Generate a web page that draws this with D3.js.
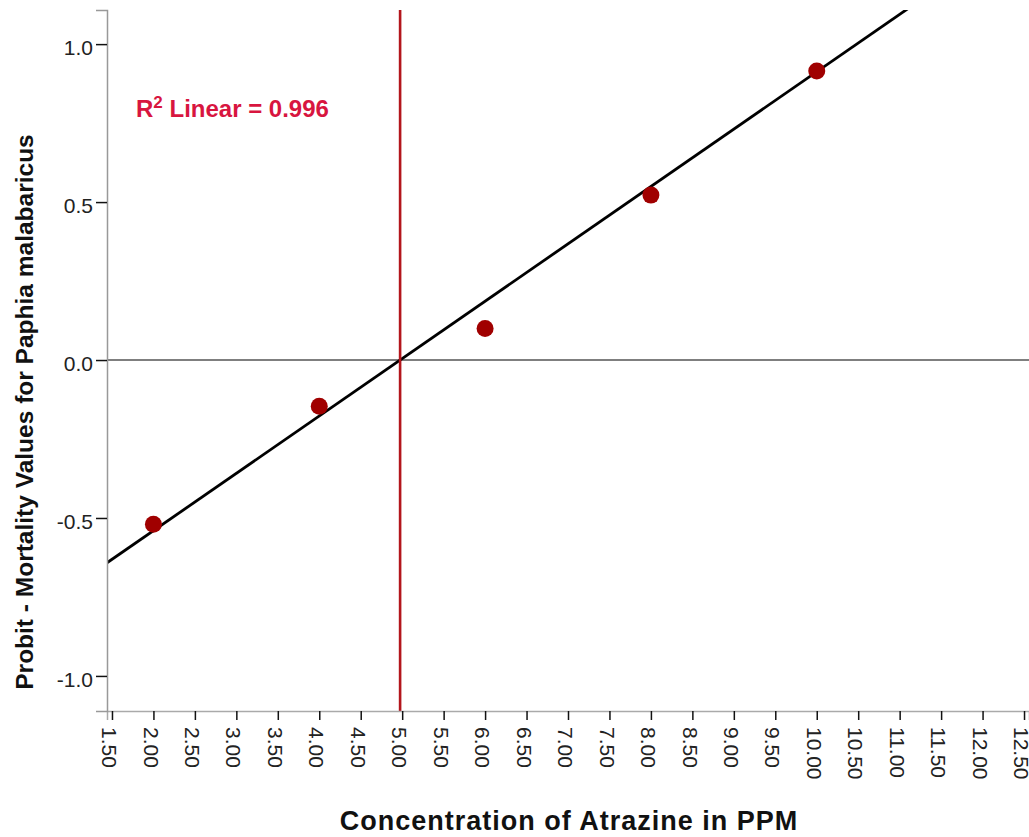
<!DOCTYPE html>
<html>
<head>
<meta charset="utf-8">
<script src="https://cdn.jsdelivr.net/npm/d3@7"></script>
<style>
  body { margin: 0; background: white; }
  text { font-family: "Liberation Sans", Arial, sans-serif; }
</style>
</head>
<body>
<div id="container"></div>
<script>
// concentration of atrazine (ppm) and probit mortality values
let concentration = [2, 4, 6, 8, 10];
let probit = [-0.52, -0.146, 0.10, 0.522, 0.915];

// fitted line as drawn in the chart (R2 linear = 0.996), and the x where it crosses 0
let fitSlope = 0.1816;
let fitCross = 4.975;
let r2Label = "0.996";

let xTicks = [1.5, 2, 2.5, 3, 3.5, 4, 4.5, 5, 5.5, 6, 6.5, 7, 7.5, 8, 8.5, 9, 9.5, 10, 10.5, 11, 11.5, 12, 12.5];
let yTicks = [-1.0, -0.5, 0.0, 0.5, 1.0];

let w = 1029;
let h = 837;
let plotLeft = 107;
let plotRight = 1029;
let plotTop = 10;
let plotBottom = 711;

let viz = d3.select("#container")
  .append("svg")
  .attr("width", w)
  .attr("height", h)
  .style("background-color", "white");

let xScale = d3.scaleLinear().domain([1.44, 12.56]).range([plotLeft, plotRight]);
let yScale = d3.scaleLinear().domain([-1.111, 1.108]).range([plotBottom, plotTop]);

function fit(x) {
  return fitSlope * (x - fitCross);
}

viz.append("clipPath").attr("id", "plotClip")
  .append("rect")
  .attr("x", plotLeft).attr("y", plotTop)
  .attr("width", plotRight - plotLeft).attr("height", plotBottom - plotTop);

let plot = viz.append("g").attr("clip-path", "url(#plotClip)");

// zero reference line
plot.append("line")
  .attr("x1", plotLeft).attr("x2", plotRight)
  .attr("y1", yScale(0)).attr("y2", yScale(0))
  .attr("stroke", "#555")
  .attr("stroke-width", 1.6);

// fit line
let x0 = xScale.domain()[0];
let x1 = xScale.domain()[1];
plot.append("line")
  .attr("x1", xScale(x0)).attr("y1", yScale(fit(x0)))
  .attr("x2", xScale(x1)).attr("y2", yScale(fit(x1)))
  .attr("stroke", "black")
  .attr("stroke-width", 2.8);

// vertical reference line where the fit crosses 0
plot.append("line")
  .attr("x1", xScale(fitCross)).attr("x2", xScale(fitCross))
  .attr("y1", plotTop).attr("y2", plotBottom)
  .attr("stroke", "#b3161c")
  .attr("stroke-width", 2.6);

// points
plot.selectAll(".pt")
  .data(concentration)
  .enter()
  .append("circle")
  .attr("class", "pt")
  .attr("cx", function (d) { return xScale(d); })
  .attr("cy", function (d, i) { return yScale(probit[i]); })
  .attr("r", 8.5)
  .attr("fill", "#a00000");

// axes
let xAxis = d3.axisBottom(xScale)
  .tickValues(xTicks)
  .tickFormat(function (d) { return d.toFixed(2); })
  .tickSize(9);
let xAxisGroup = viz.append("g")
  .attr("transform", "translate(0," + plotBottom + ")")
  .call(xAxis);
xAxisGroup.select(".domain").attr("stroke", "#aaa").attr("stroke-width", 1.5);
xAxisGroup.selectAll(".tick line").attr("stroke", "#111").attr("stroke-width", 1.5);
xAxisGroup.selectAll(".tick text")
  .attr("fill", "#222")
  .attr("font-size", 21)
  .attr("transform", "rotate(90)")
  .attr("x", 16)
  .attr("y", 3)
  .attr("dy", "0.35em")
  .attr("text-anchor", "start");

let yAxis = d3.axisLeft(yScale)
  .tickValues(yTicks)
  .tickFormat(function (d) { return d.toFixed(1); })
  .tickSize(11)
  .tickPadding(3);
let yAxisGroup = viz.append("g")
  .attr("transform", "translate(" + plotLeft + ",0)")
  .call(yAxis);
yAxisGroup.select(".domain").attr("stroke", "#999").attr("stroke-width", 1.5);
yAxisGroup.selectAll(".tick line").attr("stroke", "#111").attr("stroke-width", 1.5);
yAxisGroup.selectAll(".tick text")
  .attr("fill", "#222")
  .attr("font-size", 21)
  .attr("dy", "0.5em");

// axis titles
viz.append("text")
  .attr("x", 569)
  .attr("y", 830)
  .attr("text-anchor", "middle")
  .attr("font-size", 27)
  .attr("font-weight", "bold")
  .attr("letter-spacing", 1)
  .attr("fill", "#111")
  .text("Concentration of Atrazine in PPM");

viz.append("text")
  .attr("transform", "translate(33,412) rotate(-90)")
  .attr("text-anchor", "middle")
  .attr("font-size", 24.5)
  .attr("font-weight", "bold")
  .attr("fill", "#111")
  .text("Probit - Mortality Values for Paphia malabaricus");

// R squared label
let r2 = viz.append("text")
  .attr("x", 136)
  .attr("y", 117)
  .attr("font-size", 24)
  .attr("font-weight", "bold")
  .attr("fill", "#d8153f");
r2.append("tspan").text("R");
r2.append("tspan").attr("font-size", 17).attr("dy", -9).text("2");
r2.append("tspan").attr("dy", 9).text(" Linear = " + r2Label);
</script>
</body>
</html>
